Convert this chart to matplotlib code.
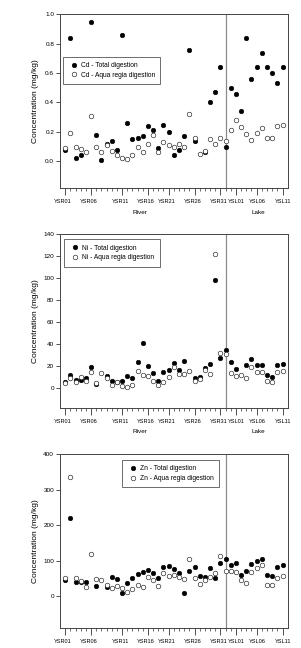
import numpy as np
import matplotlib
matplotlib.use('Agg')
import matplotlib.pyplot as plt
import matplotlib.transforms as mtransforms

plt.rcParams['font.family'] = ['Liberation Sans', 'DejaVu Sans']

nan = np.nan

# sample order along x (43 samples), labelled every few samples
tick_idx = [0, 5, 11, 16, 20, 25, 30, 33, 37, 42]
tick_labels = ['YSR01', 'YSR06', 'YSR11', 'YSR16', 'YSR21', 'YSR26', 'YSR31',
               'YSL01', 'YSL06', 'YSL11']
n_samples = 43
river_lake_split = 31

cd_total = [0.08, 0.84, 0.02, 0.04, nan, 0.95, 0.18, 0.01, 0.12, 0.14, 0.08,
            0.86, 0.26, 0.15, 0.16, 0.17, 0.24, 0.21, 0.09, 0.25, 0.20, 0.04,
            0.08, 0.17, 0.76, 0.14, nan, 0.06, 0.40, 0.47, 0.64, 0.10, 0.50,
            0.46, 0.34, 0.84, 0.56, 0.64, 0.74, 0.64, 0.60, 0.53, 0.64]
cd_aqua = [0.09, 0.195, 0.10, 0.086, 0.06, 0.31, 0.10, 0.06, 0.11, 0.07, 0.04,
           0.02, 0.016, 0.04, 0.095, 0.06, 0.115, 0.18, 0.06, 0.13, 0.11, 0.10,
           0.12, 0.10, 0.325, 0.16, 0.05, 0.07, 0.15, 0.115, 0.155, 0.135, 0.21,
           0.28, 0.23, 0.185, 0.145, 0.19, 0.225, 0.16, 0.155, 0.24, 0.245]

ni_total = [6, 12, 8, 8, 9, 19, 4, nan, 11, 7, 6, 7, 11, 9, 24, 41, 20.5, 14,
            6.5, 14.5, 16.5, 23, 17, 25, nan, 9.7, 10, 18.8, 22.4, 98.5, 28,
            34.5, 23.6, 17.6, nan, 21, 27, 21, 21, 12, 10, 21, 21.8]
ni_aqua = [5, 9, 5.5, 10, 7, 15, 4.5, 13.6, 9, 3, 5.5, 2, 1.5, 3, 16, 12, 11.5,
           7, 3, 6, 10, 19.7, 13, 13, 16, 6.4, 8.8, 16.4, 12.7, 122, 31.8, 31.2,
           14.2, 11.5, 11.8, 9.4, 19, 14.8, 15, 7, 5.5, 14.5, 16]

zn_total = [45, 221, 40, 39, 40, nan, 28, nan, 25, 54, 49, 9, 36, 51, 62, 67, 74,
            65, 50, 81, 86, 76, 65, 9, 71, 82, 56, 55, 78, 50, 92, 105, 88, 92,
            59, 72, 91, 98, 105, 58, 56, 81, 87]
zn_aqua = [50, 335, 50, 42, 26, 118, 47, 46, 30, 22, 29, 22, 11, 20, 30, 26, 55,
           44, 27, 65, 57, 58, 55, 47, 104, 52, 33, 44, 55, 65, 113, 70, 70, 67,
           44, 37, 67, 80, 87, 32, 32, 52, 56]

panels = [
    ('Cd', cd_total, cd_aqua, (-0.18, 1.0), np.arange(0, 1.01, 0.2), '%.1f', (0.012, 0.755), True),
    ('Ni', ni_total, ni_aqua, (-17.6, 140), np.arange(0, 141, 20), '%d', (0.018, 0.971), True),
    ('Zn', zn_total, zn_aqua, (-89.5, 400), np.arange(0, 401, 100), '%d', (0.271, 0.967), False),
]
bottoms = [0.7103, 0.3708, 0.0313]

fig = plt.figure(figsize=(3.01, 6.48), dpi=100)
x = np.arange(n_samples)

for (metal, tot, aq, ylim, yt, fmt, leg_pos, show_group), b in zip(panels, bottoms):
    ax = fig.add_axes([0.1993, b, 0.7565, 0.2676])
    ax.axvline(river_lake_split, color='#8a8a8a', lw=0.9, zorder=1)
    ax.plot(x, tot, 'o', ms=3.3, mfc='black', mec='black', mew=0.4,
            label=f'{metal} - Total digestion', zorder=3)
    ax.plot(x, aq, 'o', ms=3.3, mfc='white', mec='#222222', mew=0.45,
            label=f'{metal} - Aqua regia digestion', zorder=4)

    ax.set_xlim(-1, 43)
    ax.set_ylim(*ylim)
    ax.set_yticks(yt)
    ax.set_yticklabels([fmt % v for v in yt])
    ax.set_xticks(tick_idx)
    ax.set_xticklabels(tick_labels)
    ax.set_xticks(x, minor=True)
    ax.tick_params(axis='x', which='major', length=5, width=0.6, pad=3.2,
                   labelsize=4.1, color='#333333')
    ax.tick_params(axis='x', which='minor', length=2.4, width=0.5, color='#333333')
    ax.tick_params(axis='y', length=3, width=0.6, pad=1.2, labelsize=4.6,
                   color='#333333')
    # river labels sit a little left of their ticks, lake labels a touch right
    for lab, idx in zip(ax.get_xticklabels(), tick_idx):
        dx = -2.0 if idx <= 30 else 0.6
        lab.set_transform(lab.get_transform() +
                          mtransforms.ScaledTranslation(dx / 100, 0, fig.dpi_scale_trans))
    for s in ax.spines.values():
        s.set_linewidth(0.7)
        s.set_color('#444444')

    ax.set_ylabel('Concentration (mg/kg)', fontsize=6.0)
    ax.yaxis.set_label_coords(-0.092, 0.5)

    leg = ax.legend(loc='upper left', bbox_to_anchor=leg_pos, borderaxespad=0,
                    fontsize=4.8, frameon=True, fancybox=False, framealpha=1,
                    edgecolor='#555555', handlelength=1.7, handletextpad=0.2,
                    borderpad=0.8, labelspacing=0.4)
    leg.get_frame().set_linewidth(0.6)

    if show_group:
        trans = mtransforms.blended_transform_factory(ax.transData, ax.transAxes)
        ax.text(14.5, -0.14, 'River', transform=trans, ha='center', va='center',
                fontsize=4.6)
        ax.text(37.3, -0.14, 'Lake', transform=trans, ha='center', va='center',
                fontsize=4.6)

plt.savefig('out.png', dpi=100)
plt.close()
